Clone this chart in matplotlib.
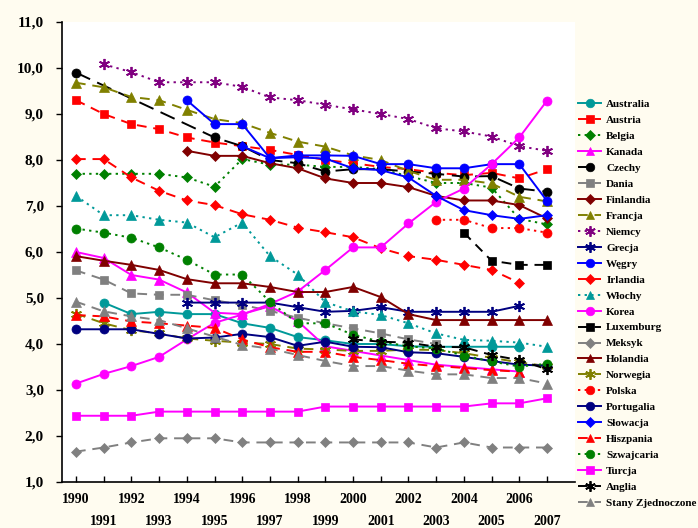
import numpy as np
import matplotlib.pyplot as plt
from matplotlib.ticker import FixedLocator, FuncFormatter

nan = np.nan
years = list(range(1990, 2008))

australia = [nan, 4.9, 4.65, 4.7, 4.65, 4.65, 4.45, 4.35, 4.15, 4.08, 4.0, 4.0, 3.95, 3.94, 3.94, 3.94, 3.94, nan]
austria = [9.3, 9.0, 8.78, 8.67, 8.49, 8.38, 8.3, 8.22, 8.11, 8.0, 7.93, 7.85, 7.8, 7.72, 7.67, 7.72, 7.6, 7.8]
belgia = [7.7, 7.7, 7.7, 7.7, 7.62, 7.42, 8.02, 7.9, 7.9, 7.85, 7.85, 7.8, 7.65, 7.5, 7.5, 7.4, 6.72, 6.6]
kanada = [6.0, 5.87, 5.5, 5.4, 5.12, 4.68, 4.65, 4.82, 4.5, 3.95, 3.85, 3.75, 3.65, 3.55, 3.5, 3.45, 3.4, nan]
czechy = [9.9, nan, nan, nan, nan, 8.49, 8.3, 8.0, 7.93, 7.75, 7.8, 7.8, 7.75, 7.7, 7.64, 7.65, 7.38, 7.31]
dania = [5.6, 5.4, 5.1, 5.07, 5.07, 4.95, 4.85, 4.72, 4.57, 4.45, 4.34, 4.23, 4.1, 4.0, nan, nan, nan, nan]
finlandia = [nan, nan, nan, nan, 8.2, 8.09, 8.09, 7.93, 7.82, 7.6, 7.5, 7.5, 7.41, 7.22, 7.12, 7.12, 7.02, 6.73]
francja = [9.68, 9.58, 9.37, 9.3, 9.09, 8.89, 8.8, 8.59, 8.4, 8.29, 8.1, 8.0, 7.76, 7.57, 7.57, 7.49, 7.2, 7.1]
niemcy = [nan, 10.08, 9.91, 9.69, 9.69, 9.69, 9.59, 9.36, 9.3, 9.2, 9.1, 9.0, 8.89, 8.69, 8.62, 8.51, 8.3, 8.2]
grecja = [nan, nan, nan, nan, 4.9, 4.9, 4.9, 4.9, 4.8, 4.7, 4.72, 4.8, 4.7, 4.7, 4.7, 4.7, 4.83, nan]
wegry = [nan, nan, nan, nan, 9.3, 8.78, 8.78, 8.04, 8.1, 8.1, 8.09, 7.91, 7.91, 7.82, 7.82, 7.91, 7.91, 7.11]
irlandia = [8.02, 8.02, 7.62, 7.33, 7.12, 7.02, 6.82, 6.7, 6.53, 6.43, 6.32, 6.08, 5.91, 5.83, 5.72, 5.61, 5.33, nan]
wlochy = [7.22, 6.8, 6.8, 6.7, 6.64, 6.32, 6.64, 5.91, 5.51, 4.91, 4.71, 4.63, 4.45, 4.23, 4.09, 4.07, 4.03, 3.94]
korea = [3.14, 3.35, 3.52, 3.72, 4.1, 4.46, 4.64, 4.87, 5.14, 5.61, 6.1, 6.1, 6.62, 7.09, 7.38, 7.91, 8.49, 9.29]
luxemburg = [nan] * 14 + [6.42, 5.81, 5.72, 5.72]
meksyk = [1.66, 1.75, 1.86, 1.95, 1.95, 1.95, 1.86, 1.86, 1.86, 1.86, 1.86, 1.86, 1.86, 1.75, 1.86, 1.75, 1.75, 1.75]
holandia = [5.91, 5.81, 5.72, 5.61, 5.41, 5.32, 5.32, 5.24, 5.13, 5.13, 5.24, 5.02, 4.65, 4.52, 4.52, 4.52, 4.52, 4.52]
norwegia = [4.66, 4.45, 4.3, 4.23, 4.12, 4.07, 4.03, 4.0, 3.9, 3.88, 3.85, 3.85, 3.88, 3.87, 3.8, 3.7, 3.6, 3.52]
polska = [nan] * 13 + [6.7, 6.7, 6.52, 6.52, 6.42]
portugalia = [4.32, 4.32, 4.32, 4.22, 4.12, 4.14, 4.22, 4.15, 3.96, 4.05, 3.94, 3.93, 3.82, 3.8, 3.72, 3.63, 3.55, 3.53]
slowacja = [nan] * 6 + [8.3, 8.04, 8.06, 8.03, 7.82, 7.78, 7.62, 7.22, 6.91, 6.8, 6.72, 6.8]
hiszpania = [4.63, 4.6, 4.49, 4.45, 4.4, 4.35, 4.1, 3.93, 3.83, 3.83, 3.72, 3.65, 3.57, 3.52, 3.48, 3.43, 3.4, nan]
szwajcaria = [6.51, 6.42, 6.31, 6.1, 5.83, 5.51, 5.51, 4.92, 4.45, 4.45, 4.2, 4.05, 3.95, 3.9, 3.75, 3.62, 3.51, 3.57]
turcja = [2.44, 2.44, 2.44, 2.53, 2.53, 2.53, 2.53, 2.53, 2.53, 2.64, 2.64, 2.64, 2.64, 2.64, 2.64, 2.71, 2.71, 2.82]
anglia = [nan] * 10 + [4.1, 4.05, 4.03, 3.94, 3.93, 3.76, 3.65, 3.45]
stany = [4.92, 4.71, 4.6, 4.52, 4.34, 4.16, 3.98, 3.9, 3.76, 3.63, 3.52, 3.52, 3.42, 3.34, 3.34, 3.26, 3.26, 3.14]

# styles: (label, data, color, marker, linestyle)
SOLID = '-'
DASH = (0, (5, 3.5))
LDASH = (0, (8, 4))
DOT = (0, (1.2, 2.2))
AST = (6, 2, 0)
series = [
    ("Australia", australia, '#009999', 'o', SOLID),
    ("Austria", austria, '#ff0000', 's', DASH),
    ("Belgia", belgia, '#008000', 'D', DOT),
    ("Kanada", kanada, '#ff00ff', '^', SOLID),
    ("Czechy", czechy, '#000000', 'o', LDASH),
    ("Dania", dania, '#808080', 's', DASH),
    ("Finlandia", finlandia, '#800000', 'D', SOLID),
    ("Francja", francja, '#808000', '^', DASH),
    ("Niemcy", niemcy, '#800080', AST, DOT),
    ("Grecja", grecja, '#000080', AST, SOLID),
    ("Węgry", wegry, '#0000ff', 'o', SOLID),
    ("Irlandia", irlandia, '#ff0000', 'D', DASH),
    ("Włochy", wlochy, '#009999', '^', DOT),
    ("Korea", korea, '#ff00ff', 'o', SOLID),
    ("Luxemburg", luxemburg, '#000000', 's', DASH),
    ("Meksyk", meksyk, '#808080', 'D', DASH),
    ("Holandia", holandia, '#800000', '^', SOLID),
    ("Norwegia", norwegia, '#808000', AST, DASH),
    ("Polska", polska, '#ff0000', 'o', DOT),
    ("Portugalia", portugalia, '#000080', 'o', SOLID),
    ("Słowacja", slowacja, '#0000ff', 'D', SOLID),
    ("Hiszpania", hiszpania, '#ff0000', '^', DASH),
    ("Szwajcaria", szwajcaria, '#008000', 'o', DOT),
    ("Turcja", turcja, '#ff00ff', 's', SOLID),
    ("Anglia", anglia, '#000000', AST, DASH),
    ("Stany Zjednoczone", stany, '#808080', '^', DASH),
]

plt.rcParams['font.family'] = ['Liberation Serif', 'DejaVu Serif']
plt.rcParams['font.weight'] = 'bold'

fig = plt.figure(figsize=(6.98, 5.28), dpi=100, facecolor='#fffcf0')
ax = fig.add_axes([62 / 698, 1 - 482 / 528, (575 - 62) / 698, 460 / 528])
ax.set_facecolor('white')

sizes = {'o': 6.5, 's': 6, 'D': 5, '^': 6.5}
handles = []
for label, data, color, marker, ls in series:
    x = np.array(years, dtype=float)
    y = np.array(data, dtype=float)
    ok = ~np.isnan(y)
    ms = sizes.get(marker, 8) if isinstance(marker, str) else 8
    line, = ax.plot(x[ok], y[ok], color=color, linestyle=ls, linewidth=1.4,
                    marker=marker, markersize=ms, markeredgecolor=color,
                    markerfacecolor=color, markeredgewidth=1.3 if not isinstance(marker, str) else 0.5,
                    label=label)
    handles.append(line)

ax.set_xlim(1989.495, 2008.01)
ax.set_ylim(1.0, 11.0)
ax.spines['top'].set_visible(False)
ax.spines['right'].set_visible(False)
ax.spines['left'].set_linewidth(1.2)
ax.spines['bottom'].set_linewidth(1.2)

ax.set_yticks(np.arange(1, 12, 1))
ax.yaxis.set_major_formatter(FuncFormatter(lambda v, p: f"{v:.1f}".replace('.', ',')))
ax.tick_params(axis='y', direction='out', length=4, width=1, pad=9, labelsize=11)

even = [y for y in years if y % 2 == 0]
odd = [y for y in years if y % 2 == 1]
ax.xaxis.set_major_locator(FixedLocator(even))
ax.xaxis.set_minor_locator(FixedLocator(odd))
ax.set_xticklabels([str(y) for y in even])
ax.set_xticklabels([str(y) for y in odd], minor=True)
ax.tick_params(axis='x', which='major', direction='in', length=4, width=1, pad=8, labelsize=10)
ax.tick_params(axis='x', which='minor', direction='in', length=4, width=1, pad=24, labelsize=10)

fig.legend(handles=handles, loc='upper left', bbox_to_anchor=(574 / 698, 1 - 95 / 528),
           frameon=False, prop={'family': 'Liberation Serif', 'weight': 'bold', 'size': 8},
           handlelength=2.0, handletextpad=0.5, labelspacing=0.555, borderpad=0.2,
           borderaxespad=0.2, markerscale=0.95)

fig.savefig('out.png', dpi=100, facecolor=fig.get_facecolor())
